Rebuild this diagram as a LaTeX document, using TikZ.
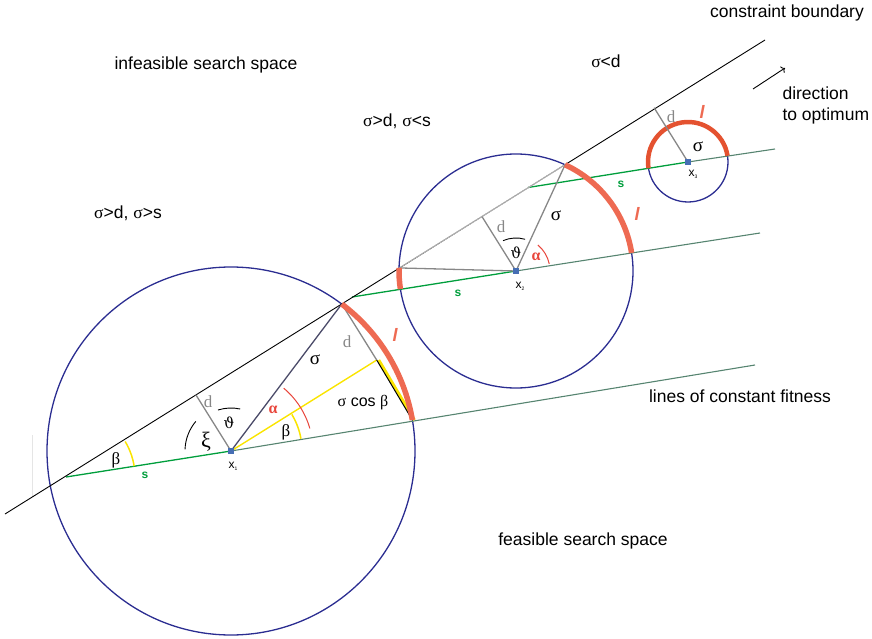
\documentclass[tikz,border=0pt]{standalone}
\usepackage{fontspec}
\setmainfont{Liberation Sans}
\newfontfamily\grk{Liberation Serif}
\newfontfamily\grkb{DejaVu Serif}
\usetikzlibrary{positioning,arrows.meta,calc}

\definecolor{circblue}{RGB}{43,45,145}
\definecolor{arcred}{RGB}{238,106,82}
\definecolor{arcdark}{RGB}{228,82,48}
\definecolor{fitgreen}{RGB}{0,158,60}
\definecolor{fitteal}{RGB}{86,132,112}
\definecolor{dgray}{RGB}{135,135,135}
\definecolor{sigyellow}{RGB}{250,228,0}
\definecolor{alphared}{RGB}{232,70,60}
\definecolor{ctrblue}{RGB}{70,110,180}
\definecolor{sigdark}{RGB}{75,75,105}

\begin{document}
\begin{tikzpicture}[x=1pt, y=-1pt, font=\fontsize{17.5}{21}\selectfont]
    % Styles
    \tikzstyle{circ} = [draw=circblue, line width=1.3pt]
    \tikzstyle{feas} = [draw=arcred, line width=5.5pt]
    \tikzstyle{fitline} = [draw=fitteal, line width=1.1pt]
    \tikzstyle{fitpart} = [draw=fitgreen, line width=1.3pt]
    \tikzstyle{dline} = [draw=dgray, line width=1.3pt]
    \tikzstyle{bound} = [draw=black, line width=0.9pt]
    \tikzstyle{angarc} = [draw=black, line width=0.9pt]
    \tikzstyle{ctr} = [rectangle, fill=ctrblue, minimum size=6pt, inner sep=0pt]
    \tikzstyle{dlabel} = [text=dgray, font=\grk\fontsize{17}{20}\selectfont]
    \tikzstyle{glabel} = [font=\grk\fontsize{19}{22}\selectfont]
    \tikzstyle{slabel} = [text=fitgreen, font=\bfseries\fontsize{12}{14}\selectfont]
    \tikzstyle{xname} = [font=\fontsize{12}{14}\selectfont]
    \tikzstyle{llabel} = [text=arcred, font=\bfseries\itshape\fontsize{18}{20}\selectfont]
    \tikzstyle{alabel} = [text=alphared, font=\grk\bfseries\fontsize{16}{18}\selectfont]

    \useasboundingbox (0,0) rectangle (872,639);

    % Points
    \coordinate (c0) at (5,514);
    \coordinate (c1) at (765,40);
    \coordinate (x1) at (231,451);
    \coordinate (x2) at (516,271);
    \coordinate (x3) at (688,162);
    \coordinate (s1) at (66,477);
    \coordinate (e1) at (755,365);
    \coordinate (s2) at (352,297);
    \coordinate (e2) at (760,233);
    \coordinate (s3) at (528,187.5);
    \coordinate (e3) at (775,149);
    \coordinate (p1) at ($(x1)+(-53:184)$);
    \coordinate (q1) at ($(x1)+(-9.7:184)$);
    \coordinate (f1) at ($(p1)+(58:66)$);
    \coordinate (g1) at ($(x1)+(-122:66)$);
    \coordinate (p2) at ($(x2)+(-65.2:117)$);
    \coordinate (l2) at ($(x2)+(-178.5:117)$);
    \coordinate (g2) at ($(x2)+(-122:64)$);
    \coordinate (g3) at ($(x3)+(-122:64)$);
    \coordinate (arrs) at (753,89);
    \coordinate (arre) at (785,68);
    \coordinate (ft) at (32,435);
    \coordinate (fb) at (32,497);

    % Circles and lines
    \draw [gray!20, line width=0.8pt] (ft) -- (fb);
    \draw [circ] (x1) circle[radius=184];
    \draw [circ] (x2) circle[radius=117];
    \draw [circ] (x3) circle[radius=40];
    \draw [fitline] (x1) -- (e1);
    \draw [fitpart] (s1) -- (x1);
    \draw [fitline] (x2) -- (e2);
    \draw [fitpart] (s2) -- (x2);
    \draw [fitline] (x3) -- (e3);
    \draw [fitpart] (s3) -- (x3);
    \draw [bound] (c0) -- (c1);
    \draw [draw=white, line width=1pt] (l2) -- (p2);
    \draw [draw=gray!80, line width=0.6pt] (l2) -- (p2);

    % Circle 1
    \draw [sigyellow, line width=1.4pt] (x1) -- (f1);
    \draw [sigyellow, line width=3pt] ([xshift=2pt]f1) -- ([xshift=2pt]q1);
    \draw [dline] (x1) -- (g1);
    \draw [dline] (p1) -- (f1);
    \draw [black, line width=1pt] (f1) -- (q1);
    \draw [draw=sigdark, line width=1.3pt] (x1) -- (p1);
    \draw [feas] (p1) arc[start angle=-53, end angle=-9.7, radius=184];
    \draw [angarc] ($(x1)+(-77.6:43)$) arc[start angle=-77.6, end angle=-107.6, radius=43];
    \draw [angarc] ($(x1)+(-140:46)$) arc[start angle=-140, end angle=-178, radius=46];
    \draw [alphared, line width=1pt] ($(x1)+(-16:82)$) arc[start angle=-16, end angle=-50, radius=82];
    \draw [sigyellow, line width=1.5pt] ($(x1)+(-10:71)$) arc[start angle=-10, end angle=-31, radius=71];
    \draw [sigyellow, line width=1.5pt] ($(s1)+(-9:69)$) arc[start angle=-9, end angle=-31, radius=69];

    % Circle 2
    \draw [dline] (x2) -- (g2);
    \draw [dline] (x2) -- (p2);
    \draw [dline] (x2) -- (l2);
    \draw [feas] (p2) arc[start angle=-65.2, end angle=-8.9, radius=117];
    \draw [feas] (l2) arc[start angle=-178.5, end angle=-188.9, radius=117];
    \draw [angarc] ($(x2)+(-74:33)$) arc[start angle=-74, end angle=-113, radius=33];
    \draw [alphared, line width=1pt] ($(x2)+(-12:34)$) arc[start angle=-12, end angle=-50, radius=34];

    % Circle 3
    \draw [feas, draw=arcdark, line width=4.5pt] ($(x3)+(-189:40)$) arc[start angle=-189, end angle=-9, radius=40];
    \draw [dline] (x3) -- (g3);

    % Centres
    \node (sq1) [ctr] at (x1) {};
    \node (sq2) [ctr] at (x2) {};
    \node (sq3) [ctr] at (x3) {};

    % Arrow
    \draw [->, line width=0.9pt] (arrs) -- (arre);

    % Texts
    \node (cb) at (787,13) {constraint boundary};
    \node (sld) at (606,61) {{\grk σ}<d};
    \node (dir) [align=left, anchor=west] at (779,105) {direction\\to optimum};
    \node (infeas) at (206,65) {infeasible search space};
    \node (sgds) at (397,121) {{\grk σ}>d, {\grk σ}<s};
    \node (sgdg) at (128,213) {{\grk σ}>d, {\grk σ}>s};
    \node (fitl) at (740,396) {lines of constant fitness};
    \node (feasl) at (583,541) {feasible search space};

    % Labels circle 1
    \node (d1a) [dlabel] at (208,402) {d};
    \node (d1b) [dlabel] at (347,342) {d};
    \node (th1) [font=\grkb\fontsize{15}{18}\selectfont] at (229,423) {ϑ};
    \node (xi1) [font=\grk\fontsize{22}{24}\selectfont] at (206,442) {ξ};
    \node (be1a) [font=\grk\fontsize{17}{20}\selectfont] at (116,460) {β};
    \node (be1b) [font=\grk\fontsize{17}{20}\selectfont] at (286,432) {β};
    \node (s1l) [slabel] at (145,475) {s};
    \node (x1l) [xname] at (233,466) {x\raisebox{-2pt}{\fontsize{5}{5}\selectfont 1}};
    \node (al1) [alabel] at (273,410) {α};
    \node (sg1) [glabel] at (315,360) {σ};
    \node (l1) [llabel] at (395,335) {l};
    \node (scb) [font=\fontsize{16}{19}\selectfont] at (363,403) {{\grk σ} cos {\grk β}};

    % Labels circle 2
    \node (d2) [dlabel] at (501,227) {d};
    \node (th2) [font=\grkb\fontsize{15}{18}\selectfont] at (516,253) {ϑ};
    \node (al2) [alabel] at (536,257) {α};
    \node (sg2) [glabel] at (556,216) {σ};
    \node (x2l) [xname] at (520,286) {x\raisebox{-2pt}{\fontsize{5}{5}\selectfont 2}};
    \node (s2l) [slabel] at (458,293) {s};
    \node (s3l) [slabel] at (621,184) {s};
    \node (l2l) [llabel] at (637,214) {l};

    % Labels circle 3
    \node (d3) [dlabel] at (671,117) {d};
    \node (sg3) [glabel] at (698,147) {σ};
    \node (x3l) [xname] at (693,174) {x\raisebox{-2pt}{\fontsize{5}{5}\selectfont 3}};
    \node (l3) [llabel] at (702,112) {l};

\end{tikzpicture}
\end{document}
